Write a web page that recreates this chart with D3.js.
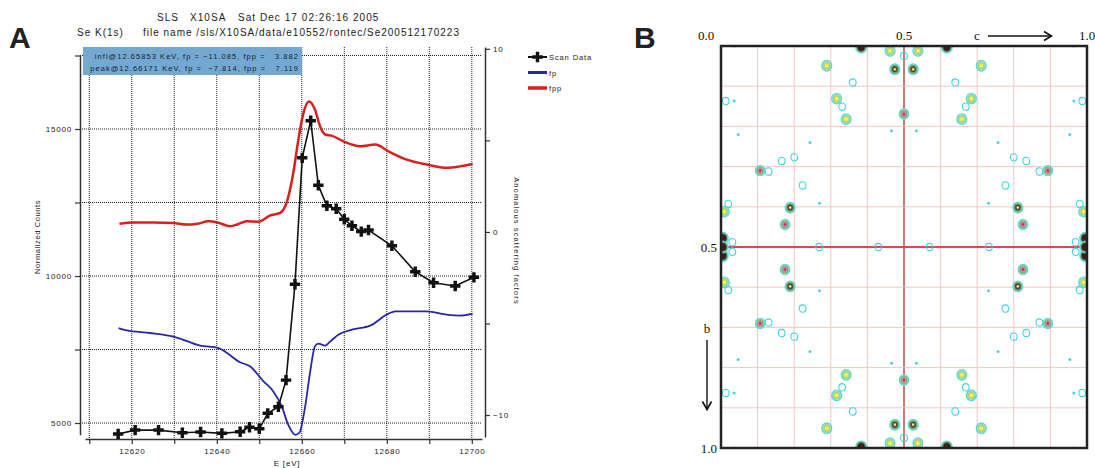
<!DOCTYPE html>
<html>
<head>
<meta charset="utf-8">
<script src="https://cdn.jsdelivr.net/npm/d3@7"></script>
<style>
  body { margin: 0; background: #fff; }
  svg { display: block; }
  text { font-family: "Liberation Sans", Arial, sans-serif; fill: #222; }
  .pre { white-space: pre; }
  .serif { font-family: "Liberation Serif", "Times New Roman", serif; fill: #111; }
</style>
</head>
<body>
<svg width="1095" height="468"></svg>
<script>
// ---- panel A data (energy in eV) ----
const scanE = [12616.8, 12620.8, 12626.3, 12631.9, 12636.2, 12641.2, 12645.5, 12647.7, 12650.0,
  12652.0, 12654.5, 12656.3, 12658.4, 12660.1, 12662.1, 12663.9, 12665.9, 12668.1, 12670.0,
  12671.8, 12674.0, 12675.7, 12681.2, 12686.7, 12691.0, 12696.1, 12700.5];
const scanCounts = [4630, 4760, 4760, 4670, 4695, 4650, 4705, 4855, 4805,
  5330, 5555, 6460, 9720, 14020, 15280, 13085, 12390, 12290, 11930,
  11710, 11510, 11565, 11030, 10145, 9770, 9660, 9955];

const fppE = [12617.1, 12620.4, 12625, 12629.7, 12632.9, 12635.5, 12638, 12640.2, 12643.1, 12645,
  12647, 12649.8, 12652.5, 12654.9, 12656.4, 12658, 12659.2, 12660.4, 12661.7, 12663.1,
  12664.3, 12665.5, 12667, 12669.8, 12673.7, 12677.3, 12680.4, 12684.7, 12689.4, 12694.1, 12697.2, 12700.2];
const fppVal = [0.45, 0.52, 0.52, 0.49, 0.40, 0.45, 0.58, 0.52, 0.31, 0.42,
  0.58, 0.56, 0.89, 1.04, 1.58, 3.22, 5.04, 6.5, 7.12, 6.68,
  5.77, 5.32, 5.26, 4.95, 4.68, 4.77, 4.4, 3.95, 3.68, 3.5, 3.58, 3.71];

const fpE = [12616.9, 12618.8, 12624.3, 12630.2, 12636.1, 12640.4, 12645.5, 12647.8, 12651, 12653.3,
  12655.3, 12656.8, 12658.5, 12659.4, 12660.8, 12661.9, 12663.1, 12663.9, 12665.5, 12666.7,
  12668.6, 12671.8, 12676.1, 12680.4, 12682, 12689.4, 12694.1, 12697.2, 12700.2];
const fpVal = [-5.25, -5.38, -5.52, -5.74, -6.21, -6.34, -7.12, -7.34, -8.16, -8.71,
  -9.53, -10.53, -11.08, -10.98, -9.53, -7.75, -6.25, -6.1, -6.21, -5.98,
  -5.61, -5.34, -5.12, -4.46, -4.34, -4.34, -4.52, -4.57, -4.46];

const countTicks = [5000, 7500, 10000, 12500, 15000, 17500];
const factorTicks = [-10, -5, 0, 5, 10];
const energyTicks = d3.range(12610, 12701, 10);

const titleLine1 = ["SLS", "X10SA", "Sat Dec 17 02:26:16 2005"];
const titleLine2 = ["Se K(1s)", "file name /sls/X10SA/data/e10552/rontec/Se200512170223"];
const infoLines = ["infl@12.65853 KeV, fp = \u221211.085, fpp =   3.882",
                   "peak@12.66171 KeV, fp =  \u22127.814, fpp =   7.119"];

// ---- panel B data: peaks in the upper-left quarter [c, b, contour level],
// the section has mirror symmetry about c = 0.5 and b = 0.5 ----
const peaks = [
  [0.383, 0.003, 6], [0.462, 0.012, 3], [0.5, 0.025, 2], [0.475, 0.058, 4],
  [0.289, 0.049, 3], [0.36, 0.091, 2], [0.013, 0.137, 2], [0.036, 0.137, 1],
  [0.316, 0.131, 3], [0.331, 0.151, 2], [0.342, 0.182, 3], [0.5, 0.169, 5],
  [0.466, 0.211, 1], [0.047, 0.22, 1], [0.243, 0.24, 1], [0.166, 0.286, 2],
  [0.2, 0.277, 2], [0.107, 0.31, 5], [0.13, 0.312, 2], [0.223, 0.347, 2],
  [0.269, 0.391, 1], [0.189, 0.402, 4], [0.009, 0.412, 3], [0.02, 0.393, 2],
  [0.175, 0.444, 5], [0.005, 0.478, 6], [0.005, 0.5, 6], [0.031, 0.488, 2],
  [0.268, 0.5, 2], [0.43, 0.5, 2], [0.037, 0.0, 1]
];
const fracTicks = d3.range(0.1, 0.95, 0.1);

const svg = d3.select("svg");

// ================= Panel A =================
const x = d3.scaleLinear().domain([12609, 12702.4]).range([85, 482]);
const yL = d3.scaleLinear().domain([4600, 17500]).range([434.8, 55.5]);
const yR = d3.scaleLinear().domain([-11.2, 10.1]).range([437, 47]);

const a = svg.append("g");

// grid
a.append("g").selectAll("line")
  .data(energyTicks)
  .join("line")
  .attr("x1", d => x(d)).attr("x2", d => x(d))
  .attr("y1", 47).attr("y2", 439)
  .attr("stroke", "#222").attr("stroke-width", 1).attr("stroke-dasharray", "1,1");
a.append("g").selectAll("line")
  .data(countTicks)
  .join("line")
  .attr("x1", 80).attr("x2", 482)
  .attr("y1", d => yL(d)).attr("y2", d => yL(d))
  .attr("stroke", "#222").attr("stroke-width", 1).attr("stroke-dasharray", "1,1");

// axes
const styleAxis = g => {
  g.selectAll(".domain").attr("stroke", "#333").attr("stroke-width", 1.5);
  g.selectAll(".tick line").attr("stroke", "#333").attr("stroke-width", 1.2);
  g.selectAll(".tick text").attr("font-size", 8).attr("letter-spacing", 0.8)
    .attr("font-family", "Liberation Sans, Arial, sans-serif").attr("fill", "#333");
};
a.append("g").attr("transform", "translate(80,0)")
  .call(d3.axisLeft(yL).tickValues(countTicks).tickSize(5).tickSizeOuter(0)
    .tickFormat(d => d % 5000 === 0 ? d : ""))
  .call(styleAxis);
a.append("g").attr("transform", "translate(485,0)")
  .call(d3.axisRight(yR).tickValues(factorTicks).tickSize(5).tickSizeOuter(0)
    .tickFormat(d => d % 10 === 0 ? d3.format("")(d).replace("-", "\u2212") : ""))
  .call(styleAxis);
a.append("g").attr("transform", "translate(0,439)")
  .call(d3.axisBottom(x).tickValues(energyTicks).tickSize(5).tickSizeOuter(0)
    .tickFormat(d => (d - 12600) % 20 === 0 ? d : ""))
  .call(styleAxis)
  .call(g => g.selectAll(".tick text").attr("dy", "0.85em"));

// curves
const fpLine = d3.line().x((d, i) => x(fpE[i])).y(d => yR(d)).curve(d3.curveMonotoneX);
const fppLine = d3.line().x((d, i) => x(fppE[i])).y(d => yR(d)).curve(d3.curveMonotoneX);
const scanLine = d3.line().x((d, i) => x(scanE[i])).y(d => yL(d));

a.append("path").datum(fpVal).attr("d", fpLine)
  .attr("fill", "none").attr("stroke", "#2626a6").attr("stroke-width", 1.8);
a.append("path").datum(fppVal).attr("d", fppLine)
  .attr("fill", "none").attr("stroke", "#d8201e").attr("stroke-width", 2.5);
a.append("path").datum(scanCounts).attr("d", scanLine)
  .attr("fill", "none").attr("stroke", "#111").attr("stroke-width", 1.6);

const cross = d3.symbol().type(d3.symbolCross).size(60);
a.append("g").selectAll("path")
  .data(scanCounts)
  .join("path")
  .attr("d", cross)
  .attr("transform", (d, i) => `translate(${x(scanE[i])},${yL(d)})`)
  .attr("fill", "#111");

// info box
a.append("rect").attr("x", 83).attr("y", 47).attr("width", 219).attr("height", 28)
  .attr("fill", "#72a8d2");
a.append("g").selectAll("text")
  .data(infoLines)
  .join("text")
  .attr("class", "pre")
  .attr("x", 299).attr("y", (d, i) => 59 + i * 12)
  .attr("text-anchor", "end")
  .attr("font-size", 7.5).attr("letter-spacing", 1.05)
  .text(d => d);

// titles
const t1x = [157, 190, 238];
a.append("g").selectAll("text").data(titleLine1).join("text")
  .attr("x", (d, i) => t1x[i]).attr("y", 21)
  .attr("font-size", 10).attr("letter-spacing", 1.05).attr("fill", "#333")
  .text(d => d);
const t2x = [77, 143];
a.append("g").selectAll("text").data(titleLine2).join("text")
  .attr("x", (d, i) => t2x[i]).attr("y", 36)
  .attr("font-size", 10).attr("letter-spacing", 1.0).attr("fill", "#333")
  .text(d => d);

// axis titles
a.append("text").attr("transform", "translate(40,237) rotate(-90)")
  .attr("text-anchor", "middle").attr("font-size", 7.5).attr("letter-spacing", 0.6)
  .attr("fill", "#333").text("Normalized Counts");
a.append("text").attr("transform", "translate(514,241) rotate(90)")
  .attr("text-anchor", "middle").attr("font-size", 7.5).attr("letter-spacing", 1.1)
  .attr("fill", "#333").text("Anomalous scattering factors");
a.append("text").attr("x", 287).attr("y", 466)
  .attr("text-anchor", "middle").attr("font-size", 8).attr("letter-spacing", 0.8)
  .attr("fill", "#333").text("E [eV]");

// legend
const legend = [
  { name: "Scan Data", color: "#111", w: 2, mark: true },
  { name: "fp", color: "#2626a6", w: 3 },
  { name: "fpp", color: "#d8201e", w: 3.5 }
];
const lg = a.append("g").selectAll("g").data(legend).join("g")
  .attr("transform", (d, i) => `translate(528,${57 + i * 15.5})`);
lg.append("line").attr("x1", 0).attr("x2", 19)
  .attr("stroke", d => d.color).attr("stroke-width", d => d.w);
lg.filter(d => d.mark).append("path").attr("d", cross).attr("transform", "translate(9.5,0)")
  .attr("fill", "#111");
lg.append("text").attr("x", 21).attr("y", 3)
  .attr("font-size", 7.5).attr("letter-spacing", 0.9).attr("fill", "#333")
  .text(d => d.name);

// panel letters
svg.append("text").attr("x", 9).attr("y", 48).attr("font-size", 30).attr("font-weight", "bold")
  .attr("fill", "#000").text("A");
svg.append("text").attr("x", 634).attr("y", 48).attr("font-size", 30).attr("font-weight", "bold")
  .attr("fill", "#000").text("B");

// ================= Panel B =================
const cx = d3.scaleLinear().domain([0, 1]).range([721, 1087]);
const by = d3.scaleLinear().domain([0, 1]).range([46, 448]);
const b = svg.append("g");

b.append("clipPath").attr("id", "frame")
  .append("rect").attr("x", cx(0)).attr("y", by(0))
  .attr("width", cx(1) - cx(0)).attr("height", by(1) - by(0));

b.append("g").selectAll("line").data(fracTicks).join("line")
  .attr("x1", d => cx(d)).attr("x2", d => cx(d)).attr("y1", by(0)).attr("y2", by(1))
  .attr("stroke", d => Math.abs(d - 0.5) < 1e-6 ? "#b83028" : "#f2c6c6")
  .attr("stroke-width", d => Math.abs(d - 0.5) < 1e-6 ? 1.3 : 1);
b.append("g").selectAll("line").data(fracTicks).join("line")
  .attr("x1", cx(0)).attr("x2", cx(1)).attr("y1", d => by(d)).attr("y2", d => by(d))
  .attr("stroke", d => Math.abs(d - 0.5) < 1e-6 ? "#e04848" : "#f2c6c6")
  .attr("stroke-width", d => Math.abs(d - 0.5) < 1e-6 ? 1.8 : 1);

// expand quarter to full section by the mirror symmetry
const seen = new Set();
const allPeaks = [];
peaks.forEach(([c, bb, lev]) => {
  [c, 1 - c].forEach(c2 => [bb, 1 - bb].forEach(b2 => {
    const key = c2.toFixed(3) + "," + b2.toFixed(3);
    if (!seen.has(key)) { seen.add(key); allPeaks.push({ c: c2, b: b2, lev }); }
  }));
});

// contour rings from outside in, per level
const rings = {
  1: [{ r: 1.4, fill: "#3dd3e3" }],
  2: [{ r: 3.4, fill: "none", stroke: "#3dd3e3" }],
  3: [{ r: 5, fill: "#aee0a6", stroke: "#4fd6e2" }, { r: 3.6, fill: "#a8d48a" }, { r: 2, fill: "#f4f050" }],
  4: [{ r: 5, fill: "#9fd3a0", stroke: "#4fd6e2" }, { r: 3.9, fill: "#7f9c62" }, { r: 2.8, fill: "#4b4a2c" }, { r: 1.3, fill: "#d8e49c" }],
  5: [{ r: 4.8, fill: "#a9dca6", stroke: "#4fd6e2" }, { r: 3.7, fill: "#8eb27c" }, { r: 2.5, fill: "#c9869a" }, { r: 1.2, fill: "#d0245a" }],
  6: [{ r: 5.4, fill: "#9bd09a", stroke: "#4fd6e2" }, { r: 4.4, fill: "#5e6a40" }, { r: 3.3, fill: "#2b2418" }, { r: 1.8, fill: "#5a1020" }]
};

const pk = b.append("g").attr("clip-path", "url(#frame)")
  .selectAll("g").data(allPeaks).join("g")
  .attr("transform", d => `translate(${cx(d.c)},${by(d.b)})`);
pk.selectAll("ellipse").data(d => rings[d.lev]).join("ellipse")
  .attr("rx", r => r.r).attr("ry", r => r.r * 1.08)
  .attr("fill", r => r.fill)
  .attr("stroke", r => r.stroke || "none")
  .attr("stroke-width", 1.1);

// frame
b.append("rect").attr("x", cx(0)).attr("y", by(0))
  .attr("width", cx(1) - cx(0)).attr("height", by(1) - by(0))
  .attr("fill", "none").attr("stroke", "#222").attr("stroke-width", 2.5);

// labels
const topLabels = [0, 0.5, 1];
b.append("g").selectAll("text").data(topLabels).join("text")
  .attr("class", "serif")
  .attr("x", d => d === 0 ? 706 : cx(d)).attr("y", 40)
  .attr("text-anchor", "middle").attr("font-size", 13)
  .text(d => d.toFixed(1));
b.append("g").selectAll("text").data([0.5, 1]).join("text")
  .attr("class", "serif")
  .attr("x", 717).attr("y", d => by(d) + 5)
  .attr("text-anchor", "end").attr("font-size", 13)
  .text(d => d.toFixed(1));

b.append("text").attr("class", "serif").attr("x", 977).attr("y", 40)
  .attr("text-anchor", "middle").attr("font-size", 13).text("c");
b.append("line").attr("x1", 988).attr("x2", 1051).attr("y1", 36).attr("y2", 36)
  .attr("stroke", "#111").attr("stroke-width", 1.4);
b.append("path").attr("d", "M1044,31.5 L1051.5,36 L1044,40.5")
  .attr("fill", "none").attr("stroke", "#111").attr("stroke-width", 1.6);

b.append("text").attr("class", "serif").attr("x", 707).attr("y", 333)
  .attr("text-anchor", "middle").attr("font-size", 13).text("b");
b.append("line").attr("x1", 707).attr("x2", 707).attr("y1", 340).attr("y2", 409)
  .attr("stroke", "#111").attr("stroke-width", 1.4);
b.append("path").attr("d", "M702.5,401.5 L707,409.5 L711.5,401.5")
  .attr("fill", "none").attr("stroke", "#111").attr("stroke-width", 1.6);
</script>
</body>
</html>
